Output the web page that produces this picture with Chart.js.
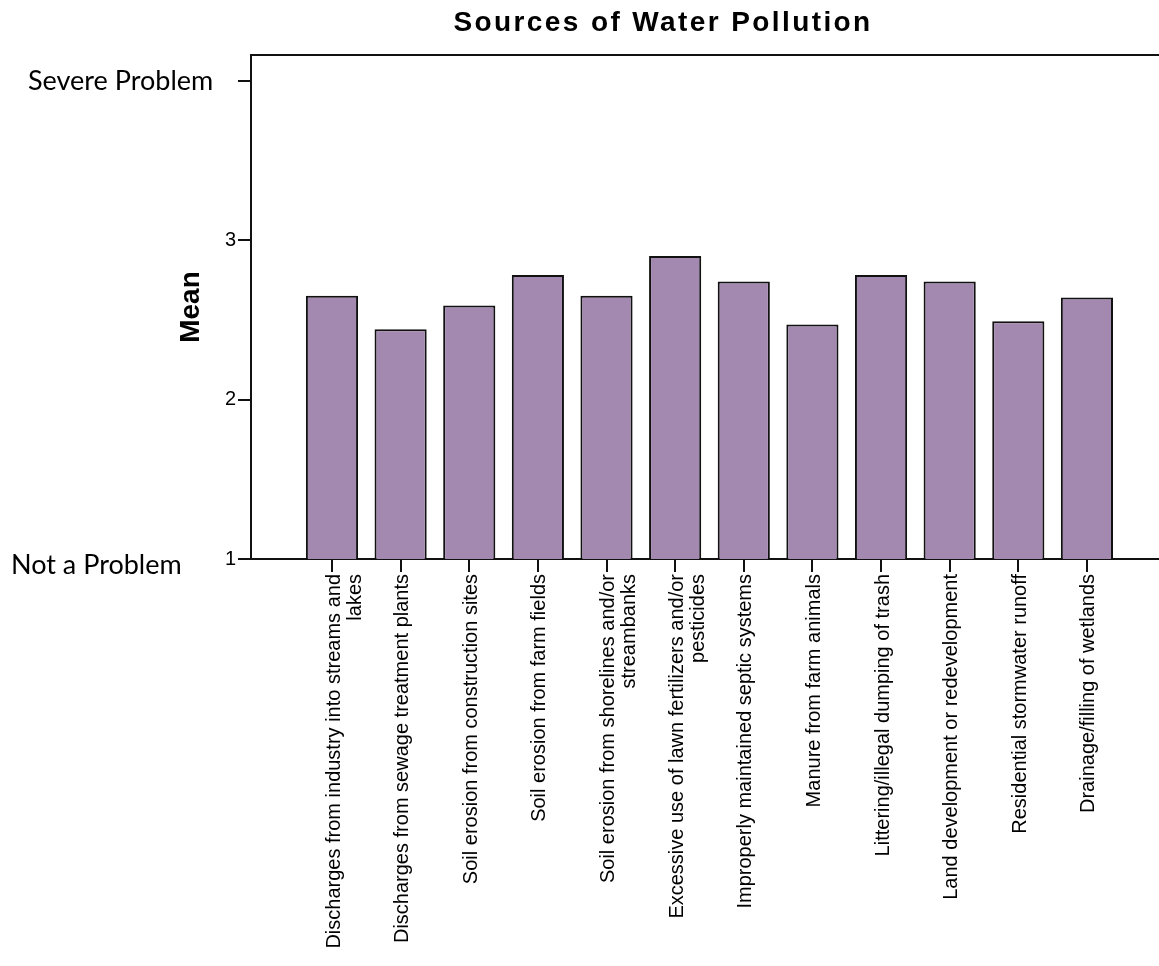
<!DOCTYPE html>
<html>
<head>
<meta charset="utf-8">
<title>Sources of Water Pollution</title>
<script src="https://cdn.jsdelivr.net/npm/chart.js@4.4.1/dist/chart.umd.min.js"></script>
<style>
  html, body { margin: 0; padding: 0; background: #fff; }
  #wrap { position: relative; width: 1159px; height: 966px; }
</style>
</head>
<body>
<div id="wrap"><canvas id="chart"></canvas></div>
<script>
// "|" marks where a category label wraps onto a second line
const categories = [
    'Discharges from industry into streams and|lakes',
    'Discharges from sewage treatment plants',
    'Soil erosion from construction sites',
    'Soil erosion from farm fields',
    'Soil erosion from shorelines and/or|streambanks',
    'Excessive use of lawn fertilizers and/or|pesticides',
    'Improperly maintained septic systems',
    'Manure from farm animals',
    'Littering/illegal dumping of trash',
    'Land development or redevelopment',
    'Residential stormwater runoff',
    'Drainage/filling of wetlands'
];
const meanValues = [2.65, 2.44, 2.59, 2.78, 2.65, 2.90, 2.74, 2.47, 2.78, 2.74, 2.49, 2.64];
const yTickValues = [1, 2, 3, 4];
const yTickLabels = ['1', '2', '3', ''];
const endValues = [4, 1];
const endLabels = ['Severe Problem', 'Not a Problem'];
const titleText = 'Sources of Water Pollution';

const FONT = '"Liberation Sans", Arial, Helvetica, sans-serif';
const INK = '#111';
const TICK_LEN = 13;

// title, top frame line, x tick marks and the verbal scale-end labels
const extras = {
    id: 'extras',
    afterDraw(chart) {
        const { ctx, chartArea: a } = chart;
        const xs = chart.scales.x;
        const ys = chart.scales.y;
        ctx.save();
        ctx.fillStyle = INK;
        ctx.fillRect(a.left, a.top - 1, a.right - a.left, 2);
        for (let i = 0; i < categories.length; i++) {
            const px = Math.round(xs.getPixelForValue(i));
            ctx.fillRect(px - 1, a.bottom, 2, TICK_LEN);
        }

        ctx.fillStyle = '#000';
        ctx.font = 'bold 28px ' + FONT;
        ctx.letterSpacing = '2.4px';
        ctx.textAlign = 'center';
        ctx.textBaseline = 'alphabetic';
        ctx.fillText(titleText, 663, 31);
        ctx.letterSpacing = '0px';

        ctx.font = '27px Lato, "Open Sans", sans-serif';
        ctx.textAlign = 'left';
        const lx = [28, 11];
        const dy = [9, 15];
        endValues.forEach((v, i) => {
            ctx.fillText(endLabels[i], lx[i], ys.getPixelForValue(v) + dy[i]);
        });
        ctx.restore();
    }
};

new Chart(document.getElementById('chart'), {
    type: 'bar',
    data: {
        datasets: [{
            label: 'Mean',
            data: meanValues.map((v, i) => ({ x: i, y: v })),
            backgroundColor: '#a388b0',
            borderColor: INK,
            borderWidth: 2,
            barPercentage: 0.76,
            categoryPercentage: 1.0
        }]
    },
    options: {
        responsive: true,
        maintainAspectRatio: false,
        animation: false,
        layout: { padding: { top: 55, right: 0, bottom: 0, left: 0 } },
        plugins: {
            legend: { display: false },
            title: { display: false },
            tooltip: { enabled: false }
        },
        scales: {
            x: {
                type: 'linear',
                offset: false,
                min: -1.18,
                max: 12.05,
                afterBuildTicks: s => { s.ticks = categories.map((c, i) => ({ value: i })); },
                afterFit: s => { s.height = 407; },
                grid: { offset: false, drawOnChartArea: false, drawTicks: false },
                border: { color: INK, width: 2 },
                ticks: {
                    autoSkip: false,
                    minRotation: 90,
                    maxRotation: 90,
                    padding: TICK_LEN + 2,
                    labelOffset: 2,
                    color: '#000',
                    font: { family: FONT, size: 20, lineHeight: 1.05 },
                    callback: v => categories[v] ? categories[v].split('|') : ''
                }
            },
            y: {
                min: 1,
                max: 4.16,
                afterBuildTicks: s => { s.ticks = yTickValues.map(v => ({ value: v })); },
                afterFit: s => { s.width = 251; },
                grid: { drawOnChartArea: false, drawTicks: true, tickLength: TICK_LEN, color: INK, lineWidth: 2 },
                border: { color: INK, width: 2 },
                ticks: {
                    padding: 2,
                    color: '#000',
                    font: { family: FONT, size: 20 },
                    callback: v => {
                        const i = yTickValues.indexOf(v);
                        return i >= 0 ? yTickLabels[i] : '';
                    }
                },
                title: {
                    display: true,
                    text: 'Mean',
                    color: '#000',
                    font: { family: FONT, size: 28, weight: 'bold' },
                    padding: { top: 174, bottom: 0 }
                }
            }
        }
    },
    plugins: [extras]
});
</script>
</body>
</html>
